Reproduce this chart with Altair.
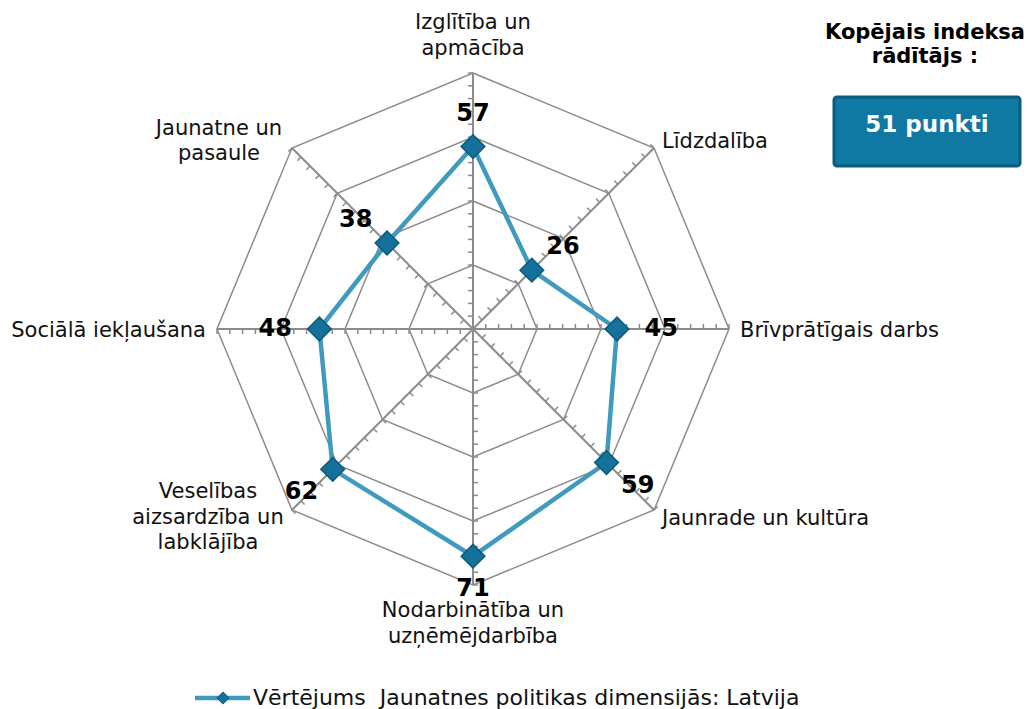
import altair as alt
import pandas as pd

# ---- data ----
categories = [
    "Izglītība un\napmācība",
    "Līdzdalība",
    "Brīvprātīgais darbs",
    "Jaunrade un kultūra",
    "Nodarbinātība un\nuzņēmējdarbība",
    "Veselības\naizsardzība un\nlabklājība",
    "Sociālā iekļaušana",
    "Jaunatne un\npasaule",
]
values = [57, 26, 45, 59, 71, 62, 48, 38]
grid_levels = [20, 40, 60, 80]
tick_values = list(range(4, 81, 4))
r_max = 80
summary_title = "Kopējais indeksa\nrādītājs :"
summary_value = "51 punkti"
legend_label = "Vērtējums\u00a0 Jaunatnes politikas dimensijās: Latvija"

FONT = "DejaVu Sans"
GRID = "#8c8c8c"
LINE = "#3f9abd"
MARK = "#14719a"
MARK_EDGE = "#0c5a7d"

idx = list(range(len(categories)))
series = pd.DataFrame({"cat": categories, "value": values, "i": idx})
grid = pd.DataFrame([{"level": l, "i": i} for l in grid_levels for i in idx])
ticks = pd.DataFrame([{"t": t, "i": i} for t in tick_values for i in idx])
spokes = pd.DataFrame({"i": idx, "r": [r_max] * len(idx)})

sx = alt.Scale(domain=[-r_max, r_max], nice=False, zero=False)
sy = alt.Scale(domain=[-r_max, r_max], nice=False, zero=False)
ANG = "PI/2 - datum.i*PI/4"


def X(f):
    return alt.X(f"{f}:Q", scale=sx, axis=None)


def Y(f):
    return alt.Y(f"{f}:Q", scale=sy, axis=None)


grid_layer = alt.Chart(grid).transform_calculate(
    a=ANG
).transform_calculate(
    x="datum.level*cos(datum.a)", y="datum.level*sin(datum.a)"
).mark_line(interpolate="linear-closed", stroke=GRID, strokeWidth=1.5).encode(
    x=X("x"), y=Y("y"), detail="level:N", order="i:Q"
)

spoke_layer = alt.Chart(spokes).transform_calculate(
    a=ANG
).transform_calculate(
    x0="0", y0="0", x1="datum.r*cos(datum.a)", y1="datum.r*sin(datum.a)"
).mark_rule(stroke=GRID, strokeWidth=2).encode(
    x=X("x0"), y=Y("y0"), x2="x1:Q", y2="y1:Q"
)

tick_layer = alt.Chart(ticks).transform_calculate(
    a=ANG
).transform_calculate(
    px="datum.t*cos(datum.a)",
    py="datum.t*sin(datum.a)",
).transform_calculate(
    qx="datum.px + 1.6*cos(datum.a + PI/2)",
    qy="datum.py + 1.6*sin(datum.a + PI/2)",
).mark_rule(stroke=GRID, strokeWidth=1.5).encode(
    x=X("px"), y=Y("py"), x2="qx:Q", y2="qy:Q"
)

base = alt.Chart(series).transform_calculate(
    a=ANG
).transform_calculate(
    x="datum.value*cos(datum.a)",
    y="datum.value*sin(datum.a)",
    lx="datum.value*cos(datum.a) + 13.8*cos(datum.a)",
    ly="datum.value*sin(datum.a) + 10.2*sin(datum.a)",
    ax="80*cos(datum.a)",
    ay="80*sin(datum.a)",
)

line_layer = base.mark_line(
    interpolate="linear-closed", stroke=LINE, strokeWidth=4.5
).encode(x=X("x"), y=Y("y"), order="i:Q")

point_layer = base.mark_point(
    shape="diamond", filled=True, size=560, fill=MARK, stroke=MARK_EDGE,
    strokeWidth=1.5, opacity=1
).encode(x=X("x"), y=Y("y"))

value_layer = base.mark_text(
    font=FONT, fontSize=24, fontWeight="bold", color="black",
    align="center", baseline="middle"
).encode(x=X("lx"), y=Y("ly"), text="value:Q")

# category labels: (align, dx, dy of first baseline relative to the axis end)
label_style = [
    ("center", 0, -44),
    ("left", 8, 0),
    ("left", 11, 8),
    ("left", 8, 15),
    ("center", 0, 32),
    ("center", -84, -12),
    ("right", -11, 8),
    ("center", -73, -13),
]
label_layers = []
for i, (al, dx, dy) in enumerate(label_style):
    label_layers.append(
        base.transform_filter(f"datum.i == {i}").mark_text(
            font=FONT, fontSize=21, color="#111111", align=al,
            baseline="alphabetic", dx=dx, dy=dy, lineBreak="\n", lineHeight=25.5
        ).encode(x=X("ax"), y=Y("ay"), text="cat:N")
    )

one = pd.DataFrame({"k": [0]})

summary_title_layer = alt.Chart(one).mark_text(
    font=FONT, fontSize=21, fontWeight="bold", color="black", align="center",
    baseline="alphabetic", lineBreak="\n", lineHeight=24
).encode(x=alt.value(708), y=alt.value(-34), text=alt.value(summary_title))

box_layer = alt.Chart(one).mark_rect(
    fill="#0f78a3", stroke="#0b5c7d", strokeWidth=3, cornerRadius=3
).encode(x=alt.value(617), x2=alt.value(803), y=alt.value(24), y2=alt.value(93))

summary_value_layer = alt.Chart(one).mark_text(
    font=FONT, fontSize=23, fontWeight="bold", color="white", align="center",
    baseline="alphabetic"
).encode(x=alt.value(710), y=alt.value(59), text=alt.value(summary_value))

legend_line = alt.Chart(one).mark_rule(stroke=LINE, strokeWidth=4.5).encode(
    x=alt.value(-22), x2=alt.value(33), y=alt.value(625)
)
legend_point = alt.Chart(one).mark_point(
    shape="diamond", filled=True, size=150, fill=MARK, stroke=MARK_EDGE,
    strokeWidth=1, opacity=1
).encode(x=alt.value(6), y=alt.value(625))
legend_text = alt.Chart(one).mark_text(
    font=FONT, fontSize=22, color="#111111", align="left", baseline="alphabetic"
).encode(x=alt.value(36), y=alt.value(632), text=alt.value(legend_label))

chart = alt.layer(
    grid_layer, spoke_layer, tick_layer, line_layer, point_layer, value_layer,
    *label_layers, summary_title_layer, box_layer, summary_value_layer,
    legend_line, legend_point, legend_text
).properties(
    width=512, height=512,
    autosize=alt.AutoSizeParams(type="none"),
    padding={"left": 217, "top": 73, "right": 301, "bottom": 124},
    background="white",
).configure_view(stroke=None)

chart.save("out.html", embed_options={"renderer": "svg", "actions": False})
